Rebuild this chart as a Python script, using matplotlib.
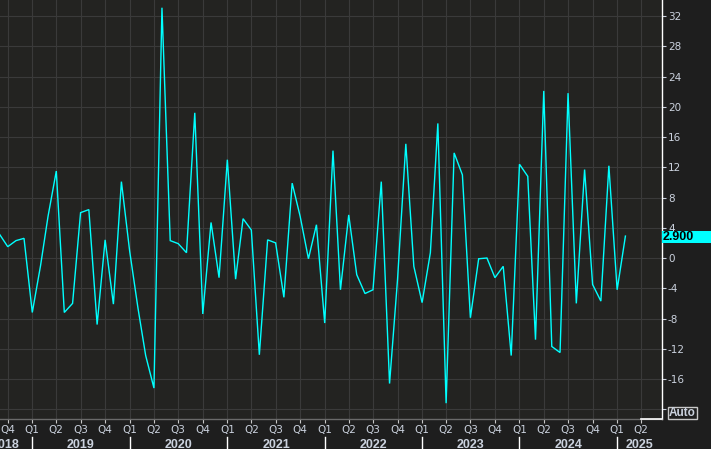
import matplotlib
matplotlib.use("Agg")
import matplotlib.pyplot as plt
import matplotlib.dates as mdates
from matplotlib.patches import Rectangle
from matplotlib.transforms import blended_transform_factory
import pandas as pd
import numpy as np

plt.rcParams['axes.unicode_minus'] = False

# ---- data (monthly, Sep 2018 .. Feb 2025) ----
start_month = "2018-09-01"
values = [
    3.1, 1.5, 2.3, 2.6,                                                    # 2018 Sep-Dec
    -7.2, -1.0, 5.5, 11.5, -7.2, -6.0, 6.0, 6.4, -8.8, 2.4, -6.1, 10.1,     # 2019
    0.9, -6.6, -12.9, -17.2, 33.1, 2.3, 1.9, 0.7, 19.2, -7.4, 4.7, -2.6,    # 2020
    13.0, -2.8, 5.2, 3.7, -12.8, 2.4, 2.0, -5.2, 9.9, 5.5, -0.1, 4.4,       # 2021
    -8.6, 14.2, -4.2, 5.7, -2.2, -4.7, -4.2, 10.1, -16.6, -2.8, 15.1, -1.1, # 2022
    -5.9, 0.7, 17.8, -19.2, 13.9, 11.0, -7.9, -0.1, 0.0, -2.6, -1.1, -12.9, # 2023
    12.4, 10.8, -10.8, 22.1, -11.7, -12.5, 21.8, -6.0, 11.7, -3.5, -5.7, 12.2, # 2024
    -4.2, 2.9,                                                             # 2025
]
dates = pd.date_range(start_month, periods=len(values), freq="MS")

y_ticks = list(range(-20, 33, 4))
y_labels = ["" if v == -20 else str(v) for v in y_ticks]
quarter_ticks = pd.date_range("2018-10-01", "2025-04-01", freq="QS")
quarter_labels = ["Q%d" % ((d.month - 1) // 3 + 1) for d in quarter_ticks]
years = [2018, 2019, 2020, 2021, 2022, 2023, 2024, 2025]

# ---- styling ----
FIG_BG = "#1e1e1e"
AX_BG = "#232321"
GRID = "#3a3a3a"
TXT = "#cbd2de"
LINE = "#00ffff"

W, H = 711, 449
fig = plt.figure(figsize=(W / 100, H / 100), dpi=100, facecolor=FIG_BG)
ax_right_px = 661.7
ax_bottom_px = 419.0
ax = fig.add_axes([0, (H - ax_bottom_px) / H, ax_right_px / W, ax_bottom_px / H])
ax.set_facecolor(AX_BG)

xmin = pd.Timestamp("2018-09-02")
xmax = pd.Timestamp("2025-06-17")
ax.set_xlim(xmin, xmax)
ax.set_ylim(-21.29, 34.12)

ax.plot(dates, values, color=LINE, lw=1.0, solid_joinstyle="miter", zorder=3)

# grid
ax.set_xticks(quarter_ticks)
ax.set_xticklabels([])
ax.set_yticks(y_ticks)
ax.set_yticklabels(y_labels)
ax.grid(True, color=GRID, lw=0.8)
ax.set_axisbelow(True)

ax.yaxis.tick_right()
ax.tick_params(axis="y", direction="out", length=3, width=0.8, color=TXT,
               labelcolor=TXT, labelsize=7.5, pad=1.5)
ax.tick_params(axis="x", direction="out", length=3, width=0.8, color="#c8c8c8")

for s in ["top", "left"]:
    ax.spines[s].set_visible(False)
ax.spines["right"].set_color("white")
ax.spines["right"].set_linewidth(1.0)
ax.spines["bottom"].set_color("#6a6a6a")
ax.spines["bottom"].set_linewidth(1.0)

# white segment at the end of the x axis
ax.plot([quarter_ticks[-1], xmax], [-21.29, -21.29], color="white", lw=1.2,
        clip_on=False, zorder=5)

tr = blended_transform_factory(ax.transData, ax.transAxes)
# quarter labels
for d, lab in zip(quarter_ticks, quarter_labels):
    ax.text(d, -11.5 / ax_bottom_px, lab, transform=tr, ha="center", va="center",
            color=TXT, fontsize=7.5, family="DejaVu Sans", clip_on=False)

# year dividers and labels
for y in years:
    ys = pd.Timestamp(f"{y}-01-01")
    if xmin < ys < xmax:
        ax.plot([ys, ys], [-18 / ax_bottom_px, -31 / ax_bottom_px], transform=tr,
                color="white", lw=1.0, clip_on=False)
    if y == 2018:
        cx = pd.Timestamp("2018-09-23")
    else:
        a = max(ys, xmin)
        b = min(pd.Timestamp(f"{y + 1}-01-01"), xmax)
        cx = a + (b - a) / 2
    ax.text(cx, -25.5 / ax_bottom_px, str(y), transform=tr, ha="center", va="center",
            color=TXT, fontsize=9, fontweight="bold", family="Liberation Sans",
            clip_on=False)

# last value tag
last = values[-1]
trv = blended_transform_factory(ax.transAxes, ax.transData)
px_per_unit = ax_bottom_px / (34.12 + 21.29)
box_h = 12.5 / px_per_unit
box_w = (W - ax_right_px) / ax_right_px
ax.add_patch(Rectangle((1.0, last - box_h / 2 - 0.1), box_w + 0.01, box_h, transform=trv,
                       facecolor=LINE, edgecolor="none", clip_on=False, zorder=6))
ax.text(1.0 + 1.0 / ax_right_px, last - 0.1, f"{last:.3f}", transform=trv, ha="left",
        va="center", color="black", fontsize=9, fontweight="bold",
        family="Liberation Sans", clip_on=False, zorder=7)

# "Auto" box
x0, x1, y0, y1 = 668, 697, 406.5, 418.5
fig.add_artist(Rectangle((x0 / W, 1 - y1 / H), (x1 - x0) / W, (y1 - y0) / H,
                         transform=fig.transFigure, facecolor=FIG_BG,
                         edgecolor="#c8c8c8", lw=1.0))
fig.text((x0 + x1) / 2 / W, 1 - (y0 + y1) / 2 / H, "Auto", ha="center", va="center",
         color=TXT, fontsize=8.5, fontweight="bold", family="Liberation Sans")

fig.savefig("out.png", dpi=100, facecolor=FIG_BG)
